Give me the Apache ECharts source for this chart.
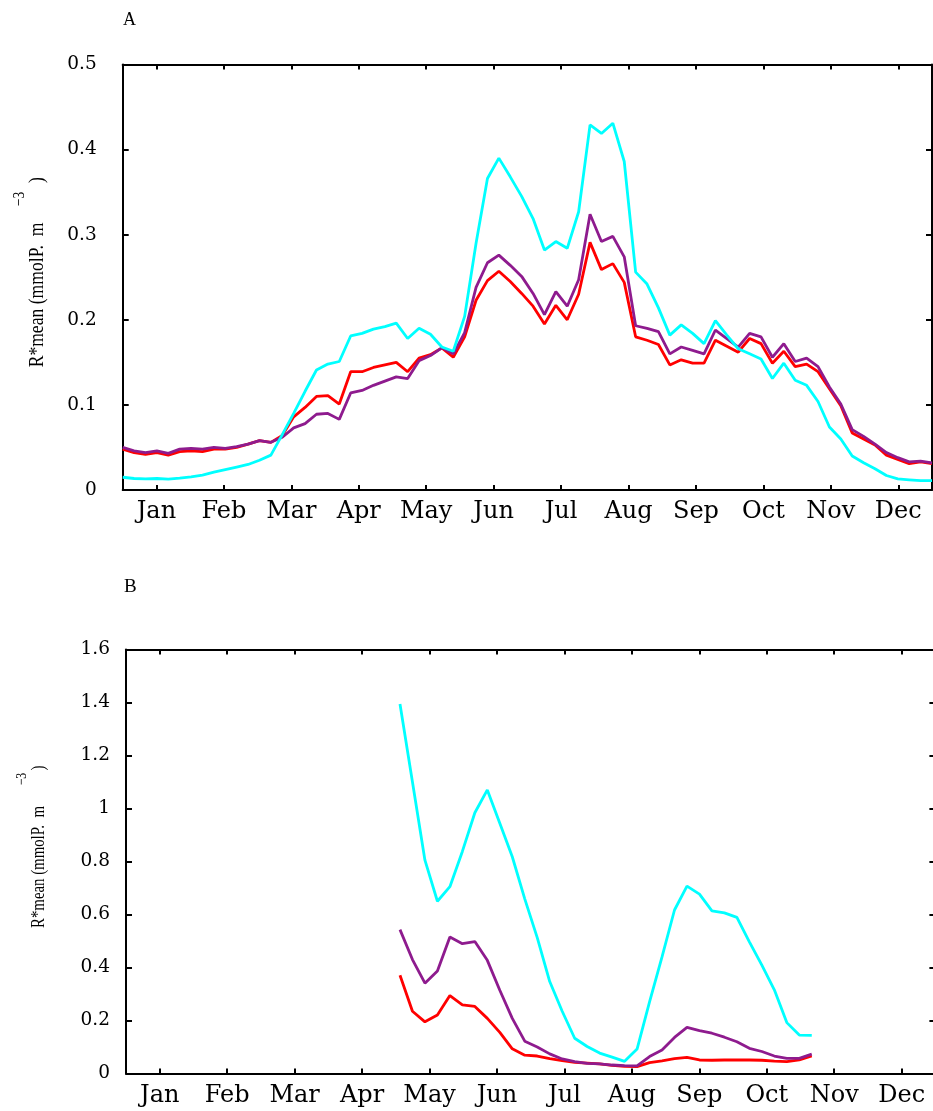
<!DOCTYPE html>
<html><head><meta charset="utf-8">
<script src="https://cdn.jsdelivr.net/npm/echarts@6/dist/echarts.min.js"></script>
<style>html,body{margin:0;padding:0;background:#fff}#c{width:933px;height:1111px}</style>
</head><body><div id="c"></div>
<script>
// ---------- data ----------
const monthLabels = ['Jan','Feb','Mar','Apr','May','Jun','Jul','Aug','Sep','Oct','Nov','Dec'];

// Panel A: 72 samples spanning the whole year (x in month units 0..12)
const aStep = 12 / 71;
const aRed = [0.048,0.044,0.042,0.044,0.041,0.045,0.046,0.045,0.048,0.048,0.050,0.054,
  0.058,0.056,0.064,0.086,0.097,0.110,0.111,0.101,0.139,0.139,0.144,0.147,
  0.150,0.139,0.155,0.159,0.167,0.156,0.180,0.223,0.246,0.257,0.245,0.231,
  0.216,0.195,0.217,0.200,0.230,0.291,0.259,0.266,0.244,0.180,0.176,0.171,
  0.147,0.153,0.149,0.149,0.176,0.169,0.162,0.178,0.172,0.149,0.163,0.145,
  0.148,0.139,0.119,0.099,0.067,0.060,0.053,0.041,0.036,0.031,0.033,0.031];
const aPurple = [0.050,0.046,0.044,0.046,0.043,0.048,0.049,0.048,0.050,0.049,0.051,0.054,
  0.058,0.056,0.062,0.073,0.078,0.089,0.090,0.083,0.114,0.117,0.123,0.128,
  0.133,0.131,0.152,0.158,0.167,0.160,0.185,0.238,0.267,0.276,0.264,0.251,
  0.231,0.206,0.233,0.216,0.247,0.324,0.292,0.298,0.274,0.193,0.190,0.186,
  0.160,0.168,0.164,0.160,0.188,0.178,0.168,0.184,0.180,0.156,0.172,0.151,
  0.155,0.145,0.121,0.101,0.071,0.063,0.054,0.044,0.038,0.033,0.034,0.032];
const aCyan = [0.015,0.0135,0.013,0.0135,0.0127,0.014,0.0155,0.0175,0.021,0.024,0.027,0.030,
  0.035,0.041,0.065,0.090,0.116,0.141,0.148,0.151,0.181,0.184,0.189,0.192,
  0.196,0.178,0.190,0.183,0.168,0.163,0.204,0.290,0.366,0.390,0.368,0.345,
  0.319,0.282,0.292,0.284,0.327,0.429,0.419,0.431,0.386,0.256,0.242,0.214,
  0.182,0.194,0.184,0.172,0.199,0.182,0.166,0.160,0.154,0.131,0.149,0.129,
  0.123,0.104,0.074,0.060,0.040,0.032,0.025,0.017,0.013,0.012,0.011,0.011];

// Panel B: 34 samples from late April to late October
const bStart = 4.062, bStep = 0.185;
const bRed = [0.371,0.235,0.195,0.221,0.294,0.259,0.253,0.208,0.155,0.093,0.069,0.066,
  0.056,0.049,0.042,0.039,0.036,0.031,0.027,0.026,0.041,0.048,0.056,0.061,
  0.051,0.050,0.051,0.051,0.051,0.050,0.047,0.045,0.051,0.066];
const bPurple = [0.543,0.430,0.341,0.387,0.515,0.490,0.498,0.427,0.314,0.208,0.122,0.100,
  0.074,0.055,0.045,0.038,0.036,0.032,0.030,0.029,0.064,0.089,0.136,0.174,
  0.162,0.152,0.137,0.120,0.095,0.083,0.066,0.057,0.057,0.073];
const bCyan = [1.394,1.100,0.805,0.650,0.705,0.838,0.984,1.070,0.944,0.818,0.659,0.513,
  0.347,0.235,0.133,0.102,0.077,0.062,0.046,0.092,0.270,0.440,0.617,0.707,
  0.677,0.614,0.606,0.589,0.497,0.409,0.316,0.192,0.145,0.144];

const yTicksA = {min:0, max:0.5, interval:0.1};
const yTicksB = {min:0, max:1.6, interval:0.2};

// ---------- styling ----------
const C_RED = '#ff0000', C_PUR = '#8e1b8e', C_CYAN = '#00ffff';
const monthTicks = monthLabels.map((_, k) => k + 0.5);
const serif = '"DejaVu Serif", serif';

function xAxes(g, labelMargin) {
  const common = {
    type:'value', gridIndex:g, min:0, max:12,
    splitLine:{show:false},
    axisLine:{show:true, onZero:false, lineStyle:{color:'#000', width:2}},
    axisTick:{show:true, inside:true, length:5, customValues:monthTicks, lineStyle:{color:'#000', width:2}}
  };
  return [
    Object.assign({}, common, {position:'bottom',
      axisLabel:{show:true, customValues:monthTicks, margin:labelMargin,
        formatter:v => monthLabels[Math.round(v - 0.5)],
        fontFamily:serif, fontSize:24, color:'#000'}}),
    Object.assign({}, common, {position:'top', axisLabel:{show:false}})
  ];
}
function yAxes(g, t, labelMargin) {
  const common = {
    type:'value', gridIndex:g, min:t.min, max:t.max, interval:t.interval,
    splitLine:{show:false},
    axisLine:{show:true, onZero:false, lineStyle:{color:'#000', width:2}},
    axisTick:{show:true, inside:true, length:6, lineStyle:{color:'#000', width:2}}
  };
  return [
    Object.assign({}, common, {position:'left',
      axisLabel:{show:true, margin:labelMargin, fontFamily:serif, fontSize:18.5, color:'#000'}}),
    Object.assign({}, common, {position:'right', axisLabel:{show:false}})
  ];
}
function line(name, xIdx, yIdx, pts, color) {
  return {name, type:'line', xAxisIndex:xIdx, yAxisIndex:yIdx, data:pts,
    showSymbol:false, symbol:'none', smooth:false, clip:true,
    lineStyle:{color, width:2.8}, itemStyle:{color}, animation:false};
}
const ptsA = arr => arr.map((v, i) => [i * aStep, v]);
const ptsB = arr => arr.map((v, j) => [bStart + j * bStep, v]);

function txt(x, y, text, size, extra) {
  return Object.assign({type:'text', x, y, rotation:Math.PI/2, silent:true,
    style:{text, fontSize:size, fontFamily:'"Liberation Serif", serif', fill:'#000',
      align:'center', verticalAlign:'middle', textAlign:'center', textVerticalAlign:'middle'}}, extra || {});
}
// y-axis title: main part, superscript "-3", closing bracket
function yName(cx, cy, supX, supY, parY, sx, fs) {
  return [
    txt(cx, cy, 'R*mean (mmolP.  m', fs, {scaleX:sx}),
    txt(supX, supY, '\u22123', Math.round(fs * 0.78), {scaleX:sx}),
    txt(cx, parY, ')', fs, {scaleX:sx})
  ];
}

const chart = echarts.init(document.getElementById('c'), null, {renderer:'canvas'});
chart.setOption({
  backgroundColor:'#fff',
  animation:false,
  grid:[
    {left:122.7, top:64.5, width:809.3, height:425.5, outerBoundsMode:'none', containLabel:false},
    {left:126, top:649.5, width:809.4, height:424, outerBoundsMode:'none', containLabel:false}
  ],
  xAxis:[...xAxes(0, 10), ...xAxes(1, 10)],
  yAxis:[...yAxes(0, yTicksA, 26), ...yAxes(1, yTicksB, 16)],
  series:[
    line('A red', 0, 0, ptsA(aRed), C_RED),
    line('A purple', 0, 0, ptsA(aPurple), C_PUR),
    line('A cyan', 0, 0, ptsA(aCyan), C_CYAN),
    line('B red', 2, 2, ptsB(bRed), C_RED),
    line('B purple', 2, 2, ptsB(bPurple), C_PUR),
    line('B cyan', 2, 2, ptsB(bCyan), C_CYAN)
  ],
  graphic:[
    {type:'text', x:123, y:11, silent:true,
      style:{text:'A', fontSize:18, fontFamily:'"Liberation Serif", serif', fill:'#000'}},
    {type:'text', x:124, y:578, silent:true,
      style:{text:'B', fontSize:19, fontFamily:'"Liberation Serif", serif', fill:'#000'}},
    ...yName(37, 295, 20, 199, 180, 0.8, 22),
    ...yName(39, 867, 22, 779, 768, 0.78, 19)
  ]
});
</script></body></html>
